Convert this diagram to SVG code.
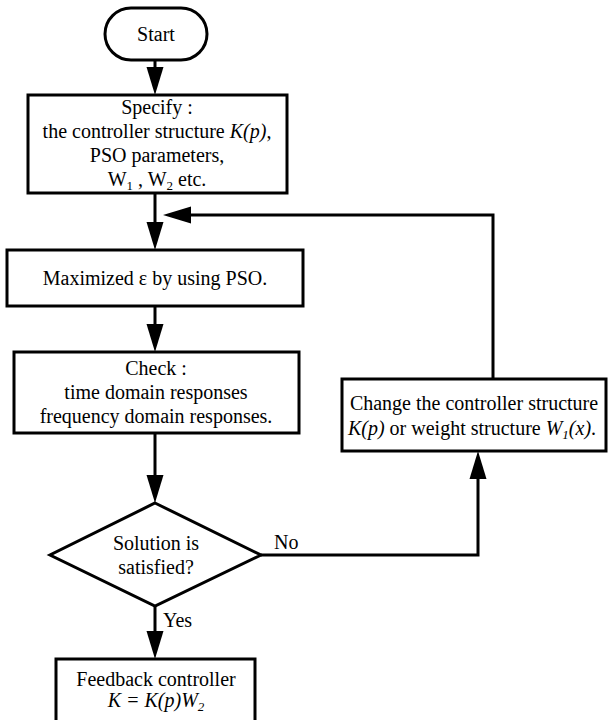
<svg xmlns="http://www.w3.org/2000/svg" width="608" height="720" viewBox="0 0 608 720" font-family="'Liberation Serif', 'DejaVu Serif', serif" font-size="20">
<style>
  .box { fill: #fff; stroke: #000; stroke-width: 3; }
  .ln { fill: none; stroke: #000; stroke-width: 3; }
  text { font-family: 'Liberation Serif', 'DejaVu Serif', serif; font-size: 20px; fill: #000; }
  .c { text-anchor: middle; }
  .i { font-style: italic; }
  .sub { font-size: 13px; }
</style>
<defs>
  <marker id="ah" markerUnits="userSpaceOnUse" markerWidth="30" markerHeight="20" refX="0" refY="8.5" orient="auto" viewBox="0 0 30 17" overflow="visible">
    <path d="M0,0 L28,8.5 L0,17 z" fill="#000"/>
  </marker>
</defs>
<rect width="608" height="720" fill="#fff"/>
<g id="connectors">
  <line class="ln" x1="155" y1="60" x2="155" y2="67" marker-end="url(#ah)"/>
  <line class="ln" x1="155" y1="193" x2="155" y2="222" marker-end="url(#ah)"/>
  <line class="ln" x1="155" y1="306" x2="155" y2="324" marker-end="url(#ah)"/>
  <line class="ln" x1="155" y1="433" x2="155" y2="475" marker-end="url(#ah)"/>
  <line class="ln" x1="155" y1="606" x2="155" y2="631" marker-end="url(#ah)"/>
  <polyline class="ln" points="261,555 478,555 478,479" marker-end="url(#ah)"/>
  <polyline class="ln" points="493,379 493,215 191,215" marker-end="url(#ah)"/>
  <text x="274" y="549">No</text>
  <text x="163" y="627">Yes</text>
</g>
<g id="start">
  <rect class="box" x="105" y="8" width="102" height="52" rx="26" ry="26"/>
  <text class="c" x="156" y="41">Start</text>
</g>
<g id="specify">
  <rect class="box" x="28" y="95" width="259" height="98"/>
  <text class="c" x="157" y="114">Specify :</text>
  <text class="c" x="157" y="138">the controller structure <tspan class="i">K(p)</tspan>,</text>
  <text class="c" x="157" y="162">PSO parameters,</text>
  <text class="c" x="157" y="186">W<tspan class="sub" dy="4">1</tspan><tspan dy="-4"> , W</tspan><tspan class="sub" dy="4">2</tspan><tspan dy="-4"> etc.</tspan></text>
</g>
<g id="maximize">
  <rect class="box" x="7" y="250" width="296" height="56"/>
  <text class="c" x="155" y="285">Maximized ε by using PSO.</text>
</g>
<g id="check">
  <rect class="box" x="14" y="352" width="285" height="81"/>
  <text class="c" x="156" y="375">Check :</text>
  <text class="c" x="156" y="399">time domain responses</text>
  <text class="c" x="156" y="423">frequency domain responses.</text>
</g>
<g id="change">
  <rect class="box" x="342" y="379" width="264" height="72"/>
  <text class="c" x="474" y="410">Change the controller structure</text>
  <text class="c" x="472" y="435"><tspan class="i">K(p)</tspan> or weight structure <tspan class="i">W</tspan><tspan class="i sub" dy="4">1</tspan><tspan class="i" dy="-4">(x)</tspan>.</text>
</g>
<g id="decision">
  <polygon class="box" points="155,503 261,555 155,606 50,555"/>
  <text class="c" x="156" y="550">Solution is</text>
  <text class="c" x="156" y="574">satisfied?</text>
</g>
<g id="feedback">
  <rect class="box" x="56" y="659" width="199" height="75"/>
  <text class="c" x="156" y="686">Feedback controller</text>
  <text class="c i" x="156" y="707">K = K(p)W<tspan class="sub" dy="4">2</tspan></text>
</g>
</svg>
